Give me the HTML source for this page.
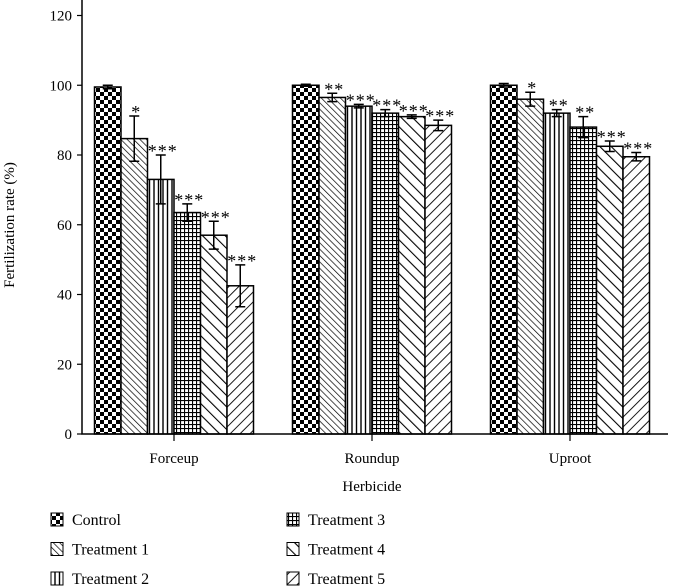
<!DOCTYPE html>
<html><head><meta charset="utf-8"><style>
body{margin:0;background:#fff}
svg{display:block;font-family:"Liberation Serif",serif}
</style></head><body>
<svg id="chart" width="679" height="587">
<defs>
<pattern id="p0" width="8" height="8" patternUnits="userSpaceOnUse"><rect width="8" height="8" fill="#fff"/><rect width="4" height="4" fill="#000"/><rect x="4" y="4" width="4" height="4" fill="#000"/></pattern>
<pattern id="p1" width="4.5" height="4.5" patternUnits="userSpaceOnUse" patternTransform="rotate(-45)"><rect width="4.5" height="4.5" fill="#fff"/><line x1="0" y1="0" x2="0" y2="4.5" stroke="#000" stroke-width="1.4"/></pattern>
<pattern id="p2" width="4.5" height="4" patternUnits="userSpaceOnUse"><rect width="4.5" height="4" fill="#fff"/><line x1="1" y1="0" x2="1" y2="4" stroke="#000" stroke-width="1.4"/></pattern>
<pattern id="p3" width="4" height="4" patternUnits="userSpaceOnUse"><rect width="4" height="4" fill="#fff"/><line x1="0.5" y1="0" x2="0.5" y2="4" stroke="#000" stroke-width="1.2"/><line x1="0" y1="0.5" x2="4" y2="0.5" stroke="#000" stroke-width="1.2"/></pattern>
<pattern id="p4" width="8" height="8" patternUnits="userSpaceOnUse" patternTransform="rotate(-45)"><rect width="8" height="8" fill="#fff"/><line x1="0" y1="0" x2="0" y2="8" stroke="#000" stroke-width="2.2"/></pattern>
<pattern id="p5" width="7" height="7" patternUnits="userSpaceOnUse" patternTransform="rotate(45)"><rect width="7" height="7" fill="#fff"/><line x1="0" y1="0" x2="0" y2="7" stroke="#000" stroke-width="1.8"/></pattern>
</defs>
<g id="plot"></g>
</svg>
<script>
const categories=["Forceup","Roundup","Uproot"];
const seriesNames=["Control","Treatment 1","Treatment 2","Treatment 3","Treatment 4","Treatment 5"];
const forceupVals=[99.5,84.7,73,63.5,57,42.5];
const roundupVals=[100,96.5,94,92,91,88.5];
const uprootVals=[100,96,92,88,82.5,79.5];
const forceupErr=[0.5,6.5,7,2.5,4,6];
const roundupErr=[0.3,1.2,0.5,1,0.5,1.5];
const uprootErr=[0.5,2,1,3,1.5,1.2];
const forceupStars=["","*","***","***","***","***"];
const roundupStars=["","**","***","***","***","***"];
const uprootStars=["","*","**","**","***","***"];
const yTicks=[0,20,40,60,80,100,120];

const vals=[forceupVals,roundupVals,uprootVals],errs=[forceupErr,roundupErr,uprootErr],stars=[forceupStars,roundupStars,uprootStars];
const NS="http://www.w3.org/2000/svg";
const g=document.getElementById('plot');
const x0=82,y0=434;
const y=v=>y0-v*(434-15.5)/120;
const gc=i=>174+i*198;
const bw=26.5;
function el(t,a,txt){const e=document.createElementNS(NS,t);for(const k in a)e.setAttribute(k,a[k]);if(txt!==undefined)e.textContent=txt;g.appendChild(e);return e;}
categories.forEach((c,i)=>{
  vals[i].forEach((v,j)=>{
    const bx=gc(i)-3*bw+j*bw;
    const r=el('rect',{x:bx,y:y(v),width:bw,height:y0-y(v),fill:`url(#p${j})`,stroke:'#000','stroke-width':1.5});
    
    
    const cx=bx+bw/2,e=errs[i][j];
    const eb=el('path',{d:`M${cx} ${y(v+e)}V${y(v-e)}M${cx-5} ${y(v+e)}H${cx+5}M${cx-5} ${y(v-e)}H${cx+5}`,stroke:'#000','stroke-width':1.5,fill:'none'});
    
    
    if(stars[i][j]){
      const s=el('text',{x:cx+2,y:y(v+e)+2,'text-anchor':'middle','font-size':18,'letter-spacing':'1'},stars[i][j]);
      
      
    }
  });
  const t=el('text',{x:gc(i),y:463,'text-anchor':'middle','font-size':15},c);
  
  
  el('line',{x1:gc(i),y1:y0,x2:gc(i),y2:y0+7,stroke:'#000','stroke-width':1.2});
});
yTicks.forEach(v=>{
  el('line',{x1:x0-5,y1:y(v),x2:x0,y2:y(v),stroke:'#000','stroke-width':1.2});
  const t=el('text',{x:x0-10,y:y(v)+5,'text-anchor':'end','font-size':15},v);
  
  
});
const ax=el('path',{d:`M${x0} 0V${y0}H668`,stroke:'#000','stroke-width':1.5,fill:'none'});


const yt=el('text',{x:0,y:0,transform:'translate(14,225) rotate(-90)','text-anchor':'middle','font-size':15},'Fertilization rate (%)');


const xt=el('text',{x:372,y:491,'text-anchor':'middle','font-size':15},'Herbicide');


seriesNames.forEach((n,j)=>{
  const col=Math.floor(j/3),row=j%3;
  const lx=col?287:51,ly=513+row*29.5;
  const r=el('rect',{x:lx,y:ly,width:12,height:13,fill:`url(#p${j})`,stroke:'#000','stroke-width':1});
  
  
  const t=el('text',{x:lx+21,y:ly+12,'font-size':16},n);
  
  
});
</script>
</body></html>
